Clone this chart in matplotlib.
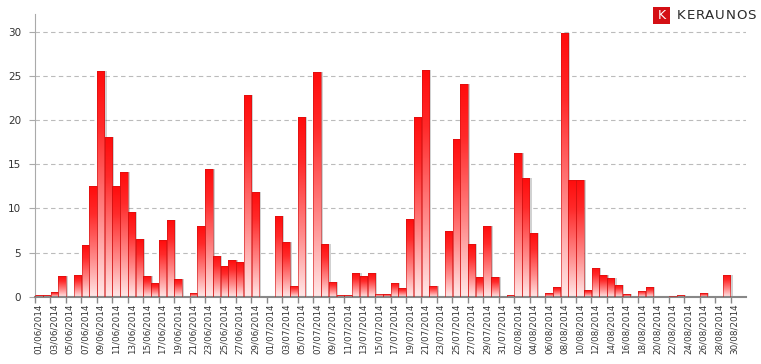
import numpy as np
import matplotlib
matplotlib.use("Agg")
import matplotlib.pyplot as plt
from matplotlib.patches import Rectangle
from matplotlib.colors import LinearSegmentedColormap
import datetime as dt

# ---- data ----
start = dt.date(2014, 6, 1)
dates = [start + dt.timedelta(days=i) for i in range(92)]
date_labels = [d.strftime("%d/%m/%Y") for d in dates]

values = [
    0.15, 0.2, 0.55, 2.3, 0.0, 2.4, 5.8, 12.5, 25.6, 18.1,     # 01-10 Jun
    12.5, 14.1, 9.6, 6.5, 2.3, 1.5, 6.4, 8.7, 2.0, 0.0,        # 11-20 Jun
    0.45, 7.95, 14.5, 4.65, 3.5, 4.1, 3.9, 22.8, 11.85, 0.0,   # 21-30 Jun
    0.0, 9.1, 6.2, 1.25, 20.3, 0.0, 25.45, 5.95, 1.7, 0.2,     # 01-10 Jul
    0.2, 2.7, 2.3, 2.7, 0.35, 0.25, 1.6, 1.0, 8.8, 20.3,       # 11-20 Jul
    25.7, 1.25, 0.0, 7.4, 17.9, 24.1, 5.95, 2.2, 8.05, 2.2,    # 21-30 Jul
    0.0,                                                       # 31 Jul
    0.2, 16.3, 13.4, 7.2, 0.0, 0.45, 1.05, 29.9, 13.25, 13.25, # 01-10 Aug
    0.75, 3.3, 2.4, 2.15, 1.3, 0.25, 0.0, 0.7, 1.05, 0.0,      # 11-20 Aug
    0.0, 0.05, 0.2, 0.0, 0.0, 0.45, 0.0, 0.0, 2.5, 0.0,        # 21-30 Aug
    0.0,                                                       # 31 Aug
]
y_ticks = [0, 5, 10, 15, 20, 25, 30]
logo_text = "KERAUNOS"

W, H = 761, 364
fig = plt.figure(figsize=(W / 100, H / 100), dpi=100)
ax = fig.add_axes([35 / W, 1 - 296.7 / H, (746 - 35) / W, (296.7 - 14) / H])

x = np.arange(len(values))

# shadows
ax.bar(x + 0.28, values, width=0.95, color="#000000", alpha=0.18,
       linewidth=0, zorder=2)
bars = ax.bar(x, values, width=0.95, color="none", edgecolor="#d01010",
              linewidth=0.4, zorder=3)

cmap = LinearSegmentedColormap.from_list(
    "grad", [(0.0, "#ffe8e8"), (0.35, "#ff8a8a"), (0.75, "#ff2a2a"), (1.0, "#ff0c0c")])
grad = np.linspace(0, 1, 256).reshape(-1, 1)
for b, v in zip(bars, values):
    if v <= 0:
        continue
    x0 = b.get_x()
    w = b.get_width()
    im = ax.imshow(grad, cmap=cmap, origin="lower", aspect="auto",
                   extent=[x0, x0 + w, 0, v], zorder=2.5, interpolation="bilinear")
    im.set_clip_path(b)

ax.set_xlim(-0.5, len(values) - 0.5)
ax.set_ylim(0, 32)

# grid
ax.set_yticks(y_ticks)
ax.yaxis.grid(True, linestyle=(0, (4, 3)), color="#bbbbbb", linewidth=0.8, zorder=0)
ax.set_axisbelow(True)
ax.tick_params(axis="y", length=4, color="#aaaaaa", labelsize=7.5,
               labelcolor="#333333", pad=6)

# x ticks: labels every 2 days, tick marks at boundaries
ax.set_xticks(x[::2])
ax.set_xticklabels(date_labels[::2], rotation=90, fontsize=6.3, color="#333333")
ax.tick_params(axis="x", which="major", length=0, pad=5)
ax.set_xticks(x[::2] - 0.5, minor=True)
ax.tick_params(axis="x", which="minor", length=4, color="#888888", width=1.0)

for s in ["top", "right"]:
    ax.spines[s].set_visible(False)
ax.spines["left"].set_color("#aaaaaa")
ax.spines["bottom"].set_color("#888888")
ax.spines["bottom"].set_linewidth(1.5)

# logo
fig.patches.append(Rectangle((653 / W, 1 - 24 / H), 17 / W, 17 / H,
                             transform=fig.transFigure, facecolor="#d40f14",
                             edgecolor="none"))
fig.text(661.5 / W, 1 - 15.5 / H, "K", color="white", fontsize=9,
         ha="center", va="center")

# letter-spaced brand text, measured with the renderer
fs = 9.6
renderer = fig.canvas.get_renderer()
texts = []
for c in logo_text:
    t = fig.text(0, 1 - 15.5 / H, c, color="#2a2a2a", fontsize=fs,
                 ha="left", va="center", family="DejaVu Sans")
    texts.append(t)
widths = [t.get_window_extent(renderer).width for t in texts]
gap = ((756 - 677) - sum(widths)) / (len(texts) - 1)
px = 677
for t, wch in zip(texts, widths):
    t.set_x(px / W)
    px += wch + gap

fig.savefig("out.png", dpi=100)
